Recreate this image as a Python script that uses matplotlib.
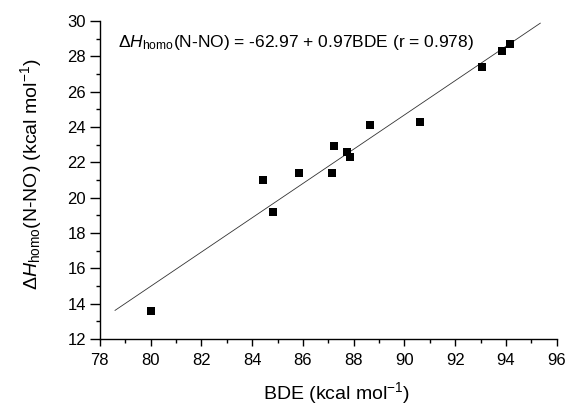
import matplotlib
matplotlib.use("Agg")
import matplotlib.pyplot as plt
import numpy as np
from matplotlib.ticker import MultipleLocator

plt.rcParams['font.family'] = ['Liberation Sans', 'DejaVu Sans']
plt.rcParams['mathtext.fontset'] = 'custom'
plt.rcParams['mathtext.rm'] = 'Liberation Sans'
plt.rcParams['mathtext.it'] = 'Liberation Sans:italic'
plt.rcParams['mathtext.default'] = 'regular'

bde = [80.0, 84.44, 84.83, 85.84, 87.15, 87.24, 87.74, 87.85, 88.63, 90.63, 93.06, 93.85, 94.15]
dh = [13.6, 21.0, 19.2, 21.4, 21.4, 22.9, 22.6, 22.3, 24.1, 24.3, 27.4, 28.3, 28.7]
fit_range = [78.6, 95.35]
fit_slope = 0.97
fit_intercept = -62.62
xticks = [78, 80, 82, 84, 86, 88, 90, 92, 94, 96]
yticks = [12, 14, 16, 18, 20, 22, 24, 26, 28, 30]

fig = plt.figure(figsize=(5.67, 4.09), dpi=100)
ax = fig.add_axes([0.176, 0.171, 0.806, 0.778])

fx = np.array(fit_range)
ax.plot(fx, fit_intercept + fit_slope * fx, color='#333333', lw=0.6)
ax.plot(bde, dh, 's', color='black', ms=5.2, mew=0)

ax.set_xlim(78, 96)
ax.set_ylim(12, 30)
ax.set_xticks(xticks)
ax.set_yticks(yticks)
ax.xaxis.set_minor_locator(MultipleLocator(1))
ax.yaxis.set_minor_locator(MultipleLocator(1))
for s in ['top', 'right']:
    ax.spines[s].set_visible(False)
for s in ['left', 'bottom']:
    ax.spines[s].set_linewidth(1.0)
ax.tick_params(which='major', direction='out', width=1, labelsize=12)
ax.tick_params(axis='x', which='major', length=5, pad=5)
ax.tick_params(axis='y', which='major', length=7, pad=3)
ax.tick_params(which='minor', direction='out', length=3, width=1)

ax.set_xlabel('BDE (kcal mol$^{-1}$)', fontsize=14)
ax.set_ylabel(r'$\Delta \mathit{H}_{\rm homo}$(N-NO) (kcal mol$^{-1}$)', fontsize=14)
ax.xaxis.set_label_coords(0.519, -0.19)
ax.xaxis.label.set_verticalalignment('baseline')
ax.yaxis.set_label_coords(-0.122, 0.519)
ax.text(0.04, 0.931, r'$\Delta \mathit{H}_{\rm homo}$(N-NO) = -62.97 + 0.97BDE (r = 0.978)',
        transform=ax.transAxes, fontsize=12.5, va='center', ha='left')

fig.savefig('out.png', dpi=100)
